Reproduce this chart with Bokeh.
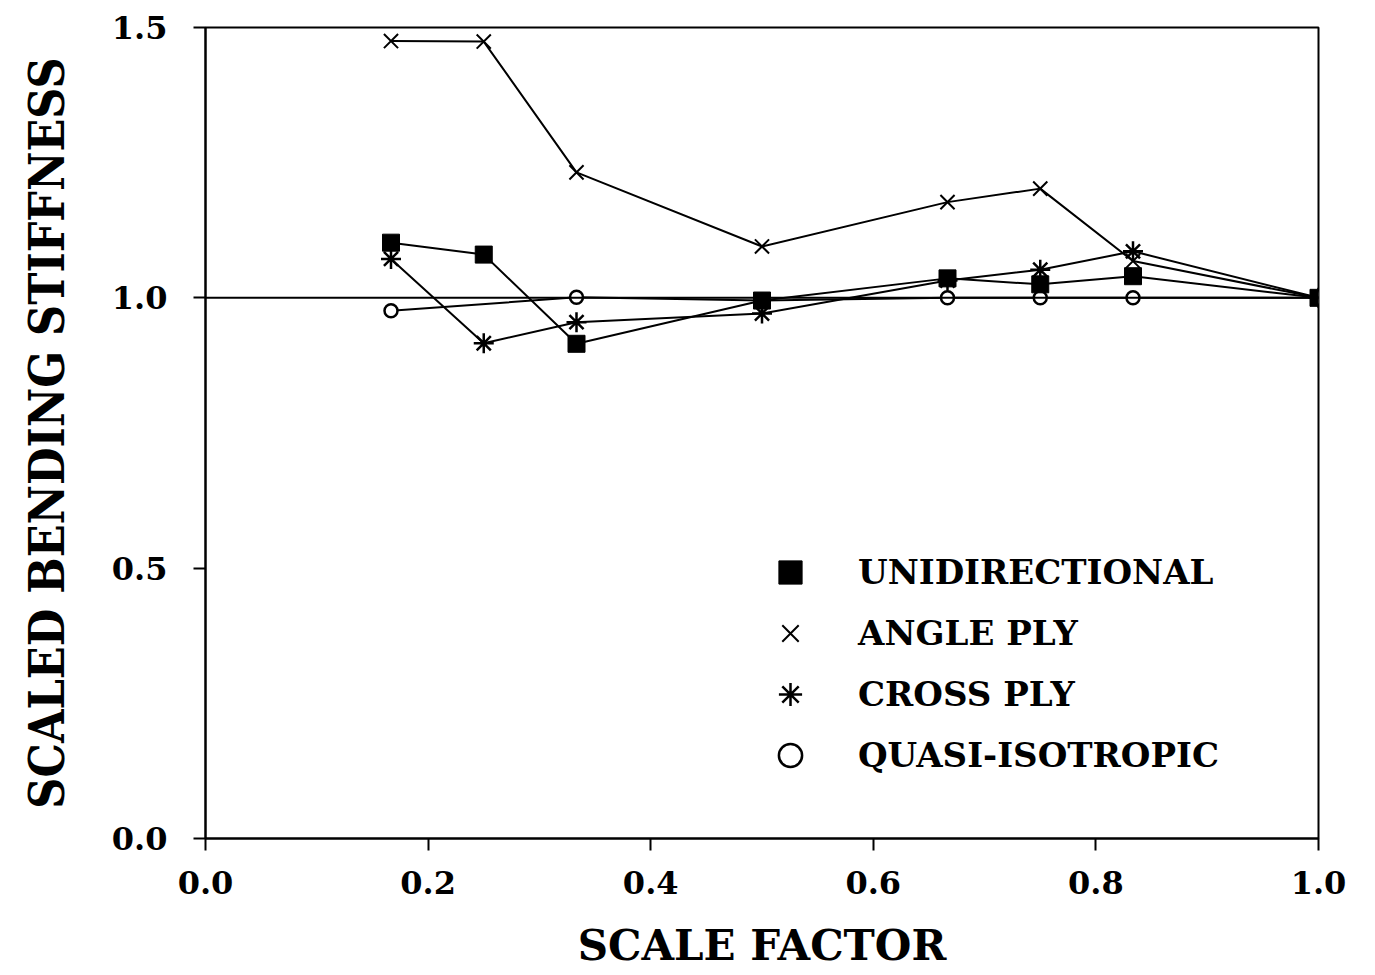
from bokeh.plotting import figure
from bokeh.models import Span, Legend, LegendItem, FixedTicker
from bokeh.embed import file_html
from bokeh.resources import INLINE

# ---- data ----
scale_factor = [1/6, 1/4, 1/3, 1/2, 2/3, 3/4, 5/6, 1.0]
unidirectional = [1.102, 1.080, 0.915, 0.995, 1.036, 1.025, 1.040, 1.0]
angle_ply = [1.475, 1.474, 1.232, 1.095, 1.177, 1.202, 1.068, 1.0]
cross_ply = [1.072, 0.916, 0.955, 0.971, 1.032, 1.052, 1.086, 1.0]
quasi_x = [1/6, 1/3, 1/2, 2/3, 3/4, 5/6, 1.0]
quasi_y = [0.976, 1.001, 0.995, 1.0, 1.0, 1.0, 1.0]

x_ticks = [0.0, 0.2, 0.4, 0.6, 0.8, 1.0]
y_ticks = [0.0, 0.5, 1.0, 1.5]
series_names = ["UNIDIRECTIONAL", "ANGLE PLY", "CROSS PLY", "QUASI-ISOTROPIC"]

FONT = "DejaVu Serif"

p = figure(width=1360, height=972, output_backend="svg", toolbar_location=None,
           x_range=(0, 1.0), y_range=(0, 1.5),
           min_border_left=205, min_border_right=42,
           min_border_top=27, min_border_bottom=134)
p.grid.visible = False
p.outline_line_color = "black"
p.outline_line_width = 2
p.background_fill_color = "white"
p.border_fill_color = "white"

for ax in (p.xaxis[0], p.yaxis[0]):
    ax.axis_line_width = 2
    ax.axis_line_color = "black"
    ax.major_tick_line_width = 2
    ax.major_tick_line_color = "black"
    ax.major_tick_out = 12
    ax.major_tick_in = 0
    ax.minor_tick_line_color = None
    ax.major_label_text_font = FONT
    ax.major_label_text_font_style = "bold"
    ax.major_label_text_font_size = "32px"
    ax.major_label_text_color = "black"
    ax.axis_label_text_font = FONT
    ax.axis_label_text_font_style = "bold"
    ax.axis_label_text_color = "black"

p.xaxis[0].ticker = FixedTicker(ticks=x_ticks)
p.yaxis[0].ticker = FixedTicker(ticks=y_ticks)
p.xaxis[0].major_label_overrides = {t: f"{t:.1f}" for t in x_ticks}
p.yaxis[0].major_label_overrides = {t: f"{t:.1f}" for t in y_ticks}
p.xaxis[0].major_label_standoff = 20
p.yaxis[0].major_label_standoff = 26

p.xaxis[0].axis_label = "SCALE FACTOR"
p.xaxis[0].axis_label_text_font_size = "42px"
p.xaxis[0].axis_label_standoff = 24
p.yaxis[0].axis_label = "SCALED BENDING STIFFNESS"
p.yaxis[0].axis_label_text_font = "DejaVu Serif Condensed, DejaVu Serif"
p.yaxis[0].axis_label_text_font_size = "48px"
p.yaxis[0].axis_label_standoff = 34

# reference line at 1.0
p.add_layout(Span(location=1.0, dimension="width", line_color="black", line_width=2))

LW = 2
p.line(scale_factor, unidirectional, line_color="black", line_width=LW)
p.line(scale_factor, angle_ply, line_color="black", line_width=LW)
p.line(scale_factor, cross_ply, line_color="black", line_width=LW)
p.line(quasi_x, quasi_y, line_color="black", line_width=LW)

r_qua = p.scatter(quasi_x, quasi_y, marker="circle", size=13,
                  fill_color="white", line_color="black", line_width=2.5)
r_cro = p.scatter(scale_factor, cross_ply, marker="asterisk", size=20,
                  line_color="black", line_width=2.5)
r_ang = p.scatter(scale_factor, angle_ply, marker="x", size=20,
                  line_color="black", line_width=2)
r_uni = p.scatter(scale_factor, unidirectional, marker="square", size=17,
                  fill_color="black", line_color="black")

legend = Legend(items=[
    LegendItem(label=series_names[0], renderers=[r_uni]),
    LegendItem(label=series_names[1], renderers=[r_ang]),
    LegendItem(label=series_names[2], renderers=[r_cro]),
    LegendItem(label=series_names[3], renderers=[r_qua]),
], location=(556, 54))
legend.border_line_color = None
legend.background_fill_alpha = 0
legend.padding = 0
legend.margin = 0
legend.glyph_width = 58
legend.glyph_height = 58
legend.spacing = 3
legend.label_standoff = 39
legend.label_text_font = FONT
legend.label_text_font_style = "bold"
legend.label_text_font_size = "34px"
legend.label_text_color = "black"
p.add_layout(legend)

open("out.html", "w").write(file_html(p, INLINE))
